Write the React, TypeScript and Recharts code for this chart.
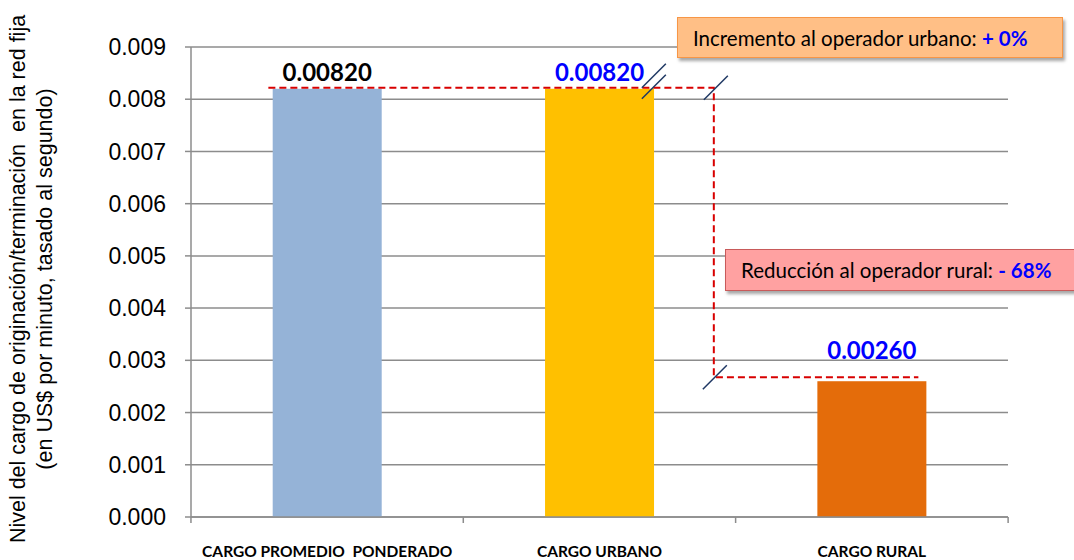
import React from "react";
import {
  Bar,
  BarChart,
  CartesianGrid,
  Cell,
  LabelList,
  XAxis,
  YAxis,
} from "recharts";

document.body.style.margin = "0";

const categories = ["CARGO PROMEDIO  PONDERADO", "CARGO URBANO", "CARGO RURAL"];
const values = [0.0082, 0.0082, 0.0026];
const barColors = ["#95B3D7", "#FFC000", "#E46C0A"];
const labelColors = ["#000000", "#0000FF", "#0000FF"];
const yTicks = [0, 0.001, 0.002, 0.003, 0.004, 0.005, 0.006, 0.007, 0.008, 0.009];
const yTitle = [
  "Nivel del cargo de originación/terminación  en la red fija",
  "(en US$ por minuto, tasado al segundo)",
];

const data = categories.map((name, i) => ({ name, value: values[i] }));

const BAR_FRACTION = 0.4;
const GRID = "#8C8C8C";
const DASH = "#D80000";
const SLASH = "#1F3864";
const CALIBRI = "Lato, 'Open Sans', sans-serif";
const ARIAL = "'Liberation Sans', Arial, sans-serif";

function slash(cx: number, cy: number, key: string) {
  return (
    <line
      key={key}
      x1={cx - 12}
      y1={cy + 12}
      x2={cx + 12}
      y2={cy - 12}
      stroke={SLASH}
      strokeWidth={1.5}
    />
  );
}

function BarShape(props: any) {
  const { x, y, width, height, index, fill } = props;
  const step = width / BAR_FRACTION;
  const side = (step * (1 - BAR_FRACTION)) / 2;
  const bottom = y + height;
  const parts: React.ReactNode[] = [
    <rect key="r" x={x} y={y} width={width} height={height} fill={fill} />,
    <line key="t" x1={x - side} x2={x - side} y1={bottom} y2={bottom + 6} stroke={GRID} strokeWidth={1.5} />,
  ];
  if (index === data.length - 1) {
    parts.push(
      <line key="t2" x1={x + width + side} x2={x + width + side} y1={bottom} y2={bottom + 6} stroke={GRID} strokeWidth={1.5} />
    );
    // dashed guide + break marks, derived from the bar geometry
    const unit = height / values[index];
    const yTop = bottom - values[1] * unit - 1;
    const yLow = y - 4;
    const v = x - 0.38 * step;
    const firstLeft = x - 2 * step - 4;
    const urbanRight = x - step + width;
    parts.push(
      <path
        key="d"
        d={`M${firstLeft},${yTop} H${v} V${yLow} H${x + width - 8}`}
        fill="none"
        stroke={DASH}
        strokeWidth={2}
        strokeDasharray="7 4"
      />
    );
    parts.push(slash(urbanRight, yTop - 12, "s1"));
    parts.push(slash(urbanRight, yTop - 1, "s2"));
    parts.push(slash(v + 2, yTop, "s3"));
    parts.push(slash(v + 1, yLow, "s4"));
  }
  return <g>{parts}</g>;
}

function ValueLabel(props: any) {
  const { x, y, width, index, value } = props;
  const lift = index === data.length - 1 ? 32 : 17;
  return (
    <text
      x={x + width / 2}
      y={y - lift}
      textAnchor="middle"
      dominantBaseline="central"
      fontFamily={CALIBRI}
      fontWeight={700}
      fontSize={24}
      fill={labelColors[index]}
    >
      {Number(value).toFixed(5)}
    </text>
  );
}

function CategoryTick(props: any) {
  const { x, y, payload } = props;
  return (
    <text
      x={x}
      y={y + 32}
      textAnchor="middle"
      fontFamily={CALIBRI}
      fontWeight={700}
      fontSize={15.5}
      fill="#000"
      style={{ whiteSpace: "pre" }}
      xmlSpace="preserve"
    >
      {payload.value}
    </text>
  );
}

function YTitle(props: any) {
  const { viewBox } = props;
  const cy = viewBox.y + viewBox.height / 2 - 3;
  return (
    <g fontFamily={ARIAL} fontSize={21.5} fill="#000">
      {yTitle.map((t, i) => (
        <text
          key={i}
          x={18 + i * 27}
          y={cy}
          transform={`rotate(-90 ${18 + i * 27} ${cy})`}
          textAnchor="middle"
          dominantBaseline="central"
          style={{ whiteSpace: "pre" }}
          xmlSpace="preserve"
        >
          {t}
        </text>
      ))}
    </g>
  );
}

const boxBase: React.CSSProperties = {
  position: "absolute",
  boxSizing: "border-box",
  display: "flex",
  alignItems: "center",
  fontFamily: CALIBRI,
  fontSize: 20.5,
  color: "#000",
  whiteSpace: "pre",
  boxShadow: "2px 3px 3px rgba(0,0,0,0.35)",
};

export default function App() {
  return (
    <div style={{ position: "relative", width: 1074, height: 560, background: "#fff", overflow: "hidden" }}>
      <BarChart
        width={1074}
        height={560}
        data={data}
        margin={{ top: 47, right: 66, bottom: 0, left: 0 }}
        barCategoryGap="30%"
      >
        <CartesianGrid horizontal vertical={false} stroke={GRID} strokeWidth={1.5} />
        <XAxis
          dataKey="name"
          height={43}
          axisLine={{ stroke: GRID, strokeWidth: 1.5 }}
          tickLine={false}
          interval={0}
          tick={CategoryTick}
        />
        <YAxis
          width={191}
          domain={[0, 0.009]}
          ticks={yTicks}
          interval={0}
          tickFormatter={(v: number) => v.toFixed(3)}
          axisLine={{ stroke: GRID, strokeWidth: 1.5 }}
          tickLine={{ stroke: GRID, strokeWidth: 1.5 }}
          tickSize={6}
          tickMargin={19}
          tick={{ fontSize: 23, fill: "#000", fontFamily: ARIAL }}
          label={{ content: YTitle }}
        />
        <Bar dataKey="value" shape={BarShape} isAnimationActive={false}>
          {data.map((d, i) => (
            <Cell key={d.name} fill={barColors[i]} />
          ))}
          <LabelList dataKey="value" content={ValueLabel} />
        </Bar>
      </BarChart>
      <div
        style={{
          ...boxBase,
          left: 677,
          top: 17,
          width: 386,
          height: 41,
          background: "#FFBF86",
          border: "1.5px solid #F79646",
          paddingLeft: 15,
        }}
      >
        Incremento al operador urbano: <b style={{ color: "#0000FF" }}>+ 0%</b>
      </div>
      <div
        style={{
          ...boxBase,
          left: 725,
          top: 249,
          width: 350,
          height: 42,
          background: "#FFA1A1",
          border: "1.5px solid #C85A5A",
          paddingLeft: 15,
        }}
      >
        Reducción al operador rural: <b style={{ color: "#0000FF" }}>- 68%</b>
      </div>
    </div>
  );
}
